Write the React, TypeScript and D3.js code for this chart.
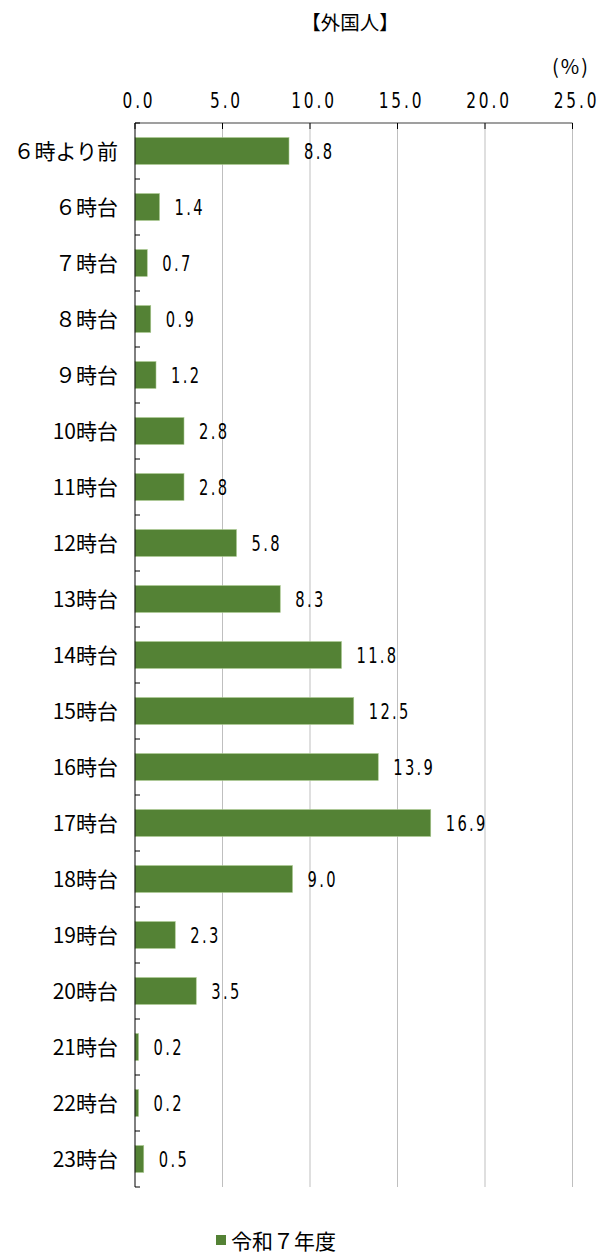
import { useEffect, useRef } from "react";
import { scaleLinear, scaleBand, select } from "d3";

const WIDTH = 608;
const HEIGHT = 1256;
const PLOT = { left: 135, right: 572.5, top: 123, bottom: 1187 };

const GREEN = "#548235";
const GRID = "#bfbfbf";
const JP_FONT = "'Noto Sans CJK JP', 'Noto Sans', sans-serif";
const NUM_FONT = "'DejaVu Sans', sans-serif";
const NUM_SQUEEZE = 0.7; // reference digits are narrow, squeeze horizontally

const CATEGORIES = [
  "６時より前", "６時台", "７時台", "８時台", "９時台",
  "10時台", "11時台", "12時台", "13時台", "14時台",
  "15時台", "16時台", "17時台", "18時台", "19時台",
  "20時台", "21時台", "22時台", "23時台",
];
const VALUES = [
  8.8, 1.4, 0.7, 0.9, 1.2,
  2.8, 2.8, 5.8, 8.3, 11.8,
  12.5, 13.9, 16.9, 9.0, 2.3,
  3.5, 0.2, 0.2, 0.5,
];
const X_TICKS = [0, 5, 10, 15, 20, 25];
const SERIES_NAME = "令和７年度";
const TITLE = "【外国人】";
const UNIT = "(%)";

export default function App() {
  const svgRef = useRef<SVGSVGElement>(null);

  useEffect(() => {
    const svg = select(svgRef.current);
    svg.selectAll("*").remove();

    const x = scaleLinear().domain([0, 25]).range([PLOT.left, PLOT.right]);
    const y = scaleBand()
      .domain(CATEGORIES)
      .range([PLOT.top, PLOT.bottom])
      .paddingInner(0.52)
      .paddingOuter(0.26);

    const numText = (px: number, py: number, anchor: string, s: string, size: number, spacing: number) => {
      svg.append("g")
        .attr("transform", `translate(${px},${py}) scale(${NUM_SQUEEZE},1)`)
        .append("text")
        .attr("text-anchor", anchor)
        .attr("font-family", NUM_FONT)
        .attr("font-size", `${size}px`)
        .attr("letter-spacing", `${spacing}px`)
        .attr("fill", "#000")
        .text(s);
    };

    // title + unit
    svg.append("text")
      .attr("x", 350)
      .attr("y", 30)
      .attr("text-anchor", "middle")
      .attr("font-family", JP_FONT)
      .attr("font-size", "19.5px")
      .attr("fill", "#000")
      .text(TITLE);

    svg.append("text")
      .attr("x", 552)
      .attr("y", 74)
      .attr("font-family", JP_FONT)
      .attr("font-size", "20px")
      .attr("letter-spacing", "2px")
      .attr("fill", "#000")
      .text(UNIT);

    // vertical gridlines
    X_TICKS.filter((t) => t > 0).forEach((t) => {
      svg.append("line")
        .attr("x1", x(t))
        .attr("x2", x(t))
        .attr("y1", PLOT.top)
        .attr("y2", PLOT.bottom)
        .attr("stroke", GRID)
        .attr("stroke-width", 1);
    });

    // value axis on top: line + downward ticks
    svg.append("line")
      .attr("x1", PLOT.left)
      .attr("x2", PLOT.right)
      .attr("y1", PLOT.top)
      .attr("y2", PLOT.top)
      .attr("stroke", "#7f7f7f")
      .attr("stroke-width", 1.5);
    X_TICKS.forEach((t) => {
      svg.append("line")
        .attr("x1", x(t))
        .attr("x2", x(t))
        .attr("y1", PLOT.top)
        .attr("y2", PLOT.top + 6)
        .attr("stroke", "#000")
        .attr("stroke-width", 1);
    });

    // tick labels on top
    X_TICKS.forEach((t) => {
      numText(x(t) + 4, 108, "middle", t.toFixed(1), 22, 4);
    });

    // bars
    const step = y.step();
    CATEGORIES.forEach((c, i) => {
      const v = VALUES[i];
      const y0 = y(c) ?? 0;
      svg.append("rect")
        .attr("x", x(0))
        .attr("y", y0)
        .attr("width", x(v) - x(0))
        .attr("height", y.bandwidth())
        .attr("fill", GREEN)
        .attr("stroke", "#a9c98f")
        .attr("stroke-width", 0.6);

      numText(x(v) + 15, y0 + y.bandwidth() / 2 + 8, "start", v.toFixed(1), 21, 3.3);

      svg.append("text")
        .attr("x", 118)
        .attr("y", y0 + y.bandwidth() / 2)
        .attr("dy", "0.36em")
        .attr("text-anchor", "end")
        .attr("font-family", JP_FONT)
        .attr("font-size", "21px")
        .attr("fill", "#000")
        .text(c);
    });

    // category axis line with inward ticks
    svg.append("line")
      .attr("x1", PLOT.left)
      .attr("x2", PLOT.left)
      .attr("y1", PLOT.top)
      .attr("y2", PLOT.bottom)
      .attr("stroke", "#000")
      .attr("stroke-width", 1);

    CATEGORIES.forEach((c, i) => {
      const yy = PLOT.top + i * step;
      svg.append("line")
        .attr("x1", PLOT.left)
        .attr("x2", PLOT.left + 5)
        .attr("y1", yy)
        .attr("y2", yy)
        .attr("stroke", "#000");
    });
    svg.append("line")
      .attr("x1", PLOT.left)
      .attr("x2", PLOT.left + 5)
      .attr("y1", PLOT.bottom)
      .attr("y2", PLOT.bottom)
      .attr("stroke", "#000");

    // legend
    svg.append("rect")
      .attr("x", 216)
      .attr("y", 1235)
      .attr("width", 10)
      .attr("height", 10)
      .attr("fill", GREEN);
    svg.append("text")
      .attr("x", 231)
      .attr("y", 1241)
      .attr("dy", "0.36em")
      .attr("font-family", JP_FONT)
      .attr("font-size", "21px")
      .attr("fill", "#000")
      .text(SERIES_NAME);
  }, []);

  return (
    <svg
      ref={svgRef}
      width={WIDTH}
      height={HEIGHT}
      style={{ position: "absolute", left: 0, top: 0, background: "#fff" }}
    />
  );
}
